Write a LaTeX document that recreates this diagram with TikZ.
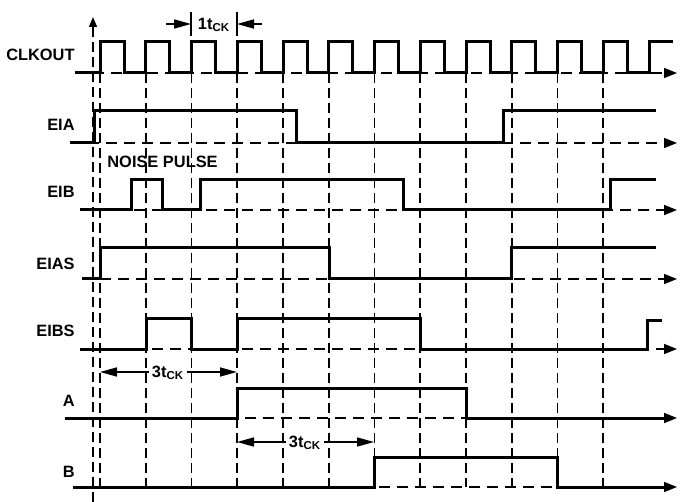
\documentclass[tikz,border=0pt]{standalone}
\usepackage{fontspec}
\setmainfont{Liberation Sans}
\usetikzlibrary{positioning}
\usetikzlibrary{arrows.meta}

\begin{document}
\begin{tikzpicture}[x=0.5pt, y=-0.5pt,
	every node/.style={font=\fontsize{8.2}{10}\selectfont\bfseries},
	lbl/.style={anchor=east, inner sep=0pt},
	dimlbl/.style={inner sep=1.5pt},
	sig/.style={line width=1.5pt},
	base/.style={line width=0.8pt, dash pattern=on 5.5pt off 3.5pt, -{Triangle[length=6.5pt,width=5pt]}},
	grid/.style={line width=0.8pt, dash pattern=on 5pt off 2.5pt},
	dim/.style={line width=0.8pt, -{Triangle[length=8.5pt,width=4.5pt]}}]
	\useasboundingbox (0,0) rectangle (680,502);

	% Signal names
	\node [lbl] at (75,55) (clkout) {CLKOUT};
	\node [lbl] at (75,125) (eia) {EIA};
	\node [lbl] at (75,192) (eib) {EIB};
	\node [lbl] at (75,264) (eias) {EIAS};
	\node [lbl] at (75,331) (eibs) {EIBS};
	\node [lbl] at (75,401) (a) {A};
	\node [lbl] at (75,472) (b) {B};
	\node [anchor=west, inner sep=0pt] at (107,162) (noise) {NOISE PULSE};

	% Time axis and clock edges
	\draw [grid, -{Triangle[length=5pt,width=4pt]}] (93,502) -- (93,17);
	\foreach \i in {0,...,11}
		\draw [grid] ({100+45.75*\i},73) -- ({100+45.75*\i},487);

	% Baselines
	\draw [base] (75,73) -- (677,73);
	\draw [base] (70,143) -- (677,143);
	\draw [base] (80,210) -- (677,210);
	\draw [base] (82,279) -- (677,279);
	\draw [base] (80,349) -- (677,349);
	\draw [base] (65,418) -- (677,418);
	\draw [base] (73,487) -- (677,487);

	% Waveforms
	\draw [sig] (75,73) \foreach \i in {0,...,11} {
		-- ({100+45.75*\i},73) -- ++(0,-31) -- ++(24,0) -- ++(0,31)}
		-- (649,73) -- (649,42) -- (673,42);
	\draw [sig] (70,143) -- (94,143) -- (94,111) -- (296,111) -- (296,143)
		-- (503,143) -- (503,111) -- (656,111);
	\draw [sig] (80,210) -- (131,210) -- (131,180) -- (162,180) -- (162,210)
		-- (200,210) -- (200,180) -- (403,180) -- (403,210) -- (610,210)
		-- (610,180) -- (656,180);
	\draw [sig] (82,279) -- (100,279) -- (100,248) -- (329,248) -- (329,279)
		-- (511,279) -- (511,248) -- (656,248);
	\draw [sig] (80,349) -- (146,349) -- (146,319) -- (191,319) -- (191,349)
		-- (237,349) -- (237,319) -- (420,319) -- (420,349) -- (647,349)
		-- (647,321) -- (662,321);
	\draw [sig] (65,418) -- (237,418) -- (237,388) -- (466,388) -- (466,418)
		-- (668,418);
	\draw [sig] (73,487) -- (374,487) -- (374,457) -- (557,457) -- (557,487)
		-- (668,487);

	% Timing marks
	\node [dimlbl] at (214,25) (t1) {1t\textsubscript{CK}};
	\coordinate (t1l) at (191,24);
	\coordinate (t1r) at (237,24);
	\draw [line width=0.8pt] (191,12) -- (191,36);
	\draw [line width=0.8pt] (237,12) -- (237,36);
	\draw [dim] (166,24) -- (t1l);
	\draw [dim] (262,24) -- (t1r);

	\node [dimlbl] at (168,373) (t3a) {3t\textsubscript{CK}};
	\coordinate (t3al) at (100,372);
	\coordinate (t3ar) at (237,372);
	\draw [dim] (t3a.west |- t3al) -- (t3al);
	\draw [dim] (t3a.east |- t3ar) -- (t3ar);

	\node [dimlbl] at (305,443) (t3b) {3t\textsubscript{CK}};
	\coordinate (t3bl) at (237,442);
	\coordinate (t3br) at (374,442);
	\draw [dim] (t3b.west |- t3bl) -- (t3bl);
	\draw [dim] (t3b.east |- t3br) -- (t3br);
\end{tikzpicture}
\end{document}
